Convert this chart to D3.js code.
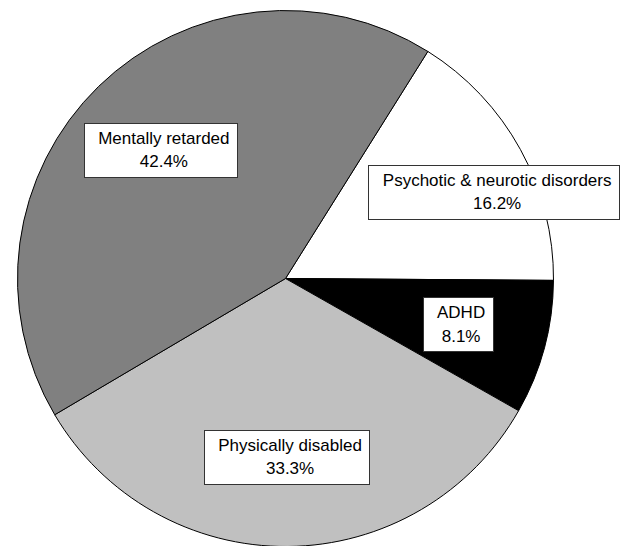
<!DOCTYPE html>
<html>
<head>
<meta charset="utf-8">
<script src="https://cdn.jsdelivr.net/npm/d3@7"></script>
<style>
  html, body { margin: 0; padding: 0; background: #ffffff; }
  svg { display: block; }
  text { font-family: "Liberation Sans", Arial, sans-serif; font-size: 17px; fill: #000; }
</style>
</head>
<body>
<svg id="chart" width="623" height="546"></svg>
<script>
// Share of pupils by type of special need (%)
const categories = ["Psychotic & neurotic disorders", "ADHD", "Physically disabled", "Mentally retarded"];
const values = [16.2, 8.1, 33.3, 42.4];
const fills = ["#ffffff", "#000000", "#c0c0c0", "#808080"];

const width = 623, height = 546;
const cx = 285.5, cy = 278.5, radius = 268;

const svg = d3.select("#chart");
const g = svg.append("g").attr("transform", `translate(${cx},${cy})`);

const total = d3.sum(values);
// ADHD slice starts at about 3 o'clock, the first slice ends there
const start = Math.PI / 2 - 2 * Math.PI * values[0] / total + 0.007;

const pie = d3.pie()
  .sort(null)
  .value(d => d.value)
  .startAngle(start)
  .endAngle(start + 2 * Math.PI);

const data = categories.map((c, i) => ({ name: c, value: values[i], fill: fills[i] }));
const arcs = pie(data);

const arc = d3.arc().innerRadius(0).outerRadius(radius);
const labelArc = d3.arc().innerRadius(radius * 2 / 3).outerRadius(radius * 2 / 3);

g.selectAll("path.slice")
  .data(arcs)
  .join("path")
  .attr("class", "slice")
  .attr("d", arc)
  .attr("fill", d => d.data.fill)
  .attr("stroke", "#000")
  .attr("stroke-width", 1)
  .attr("stroke-linejoin", "round");

const fmt = d3.format(".1f");
const lineGap = 23.3;
const boxH = 54;

const labels = g.selectAll("g.label")
  .data(arcs)
  .join("g")
  .attr("class", "label");

labels.each(function(d, i) {
  const sel = d3.select(this);
  let [x, y] = labelArc.centroid(d);
  // the wide first label is pushed right, clear of the centre
  if (i === 0) x += 52;
  const rect = sel.append("rect");
  const t = sel.append("text").attr("text-anchor", "middle");
  t.append("tspan").attr("x", x + 3).attr("y", y - 6.4).text(d.data.name);
  t.append("tspan").attr("x", x + 3).attr("y", y - 6.4 + lineGap).text(fmt(d.data.value) + "%");
  const bb = t.node().getBBox();
  const w = bb.width + 22;
  rect.attr("x", x - w / 2)
    .attr("y", y - boxH / 2)
    .attr("width", w)
    .attr("height", boxH)
    .attr("fill", "#ffffff")
    .attr("stroke", "#333")
    .attr("stroke-width", 1)
    .attr("shape-rendering", "crispEdges");
});
</script>
</body>
</html>
